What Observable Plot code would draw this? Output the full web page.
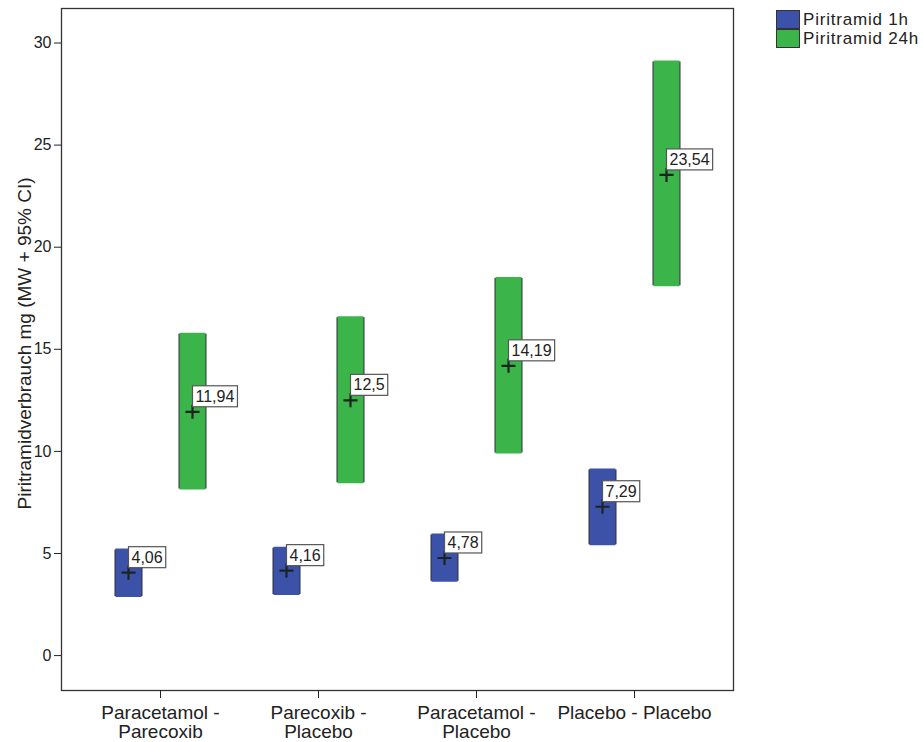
<!DOCTYPE html>
<html>
<head>
<meta charset="utf-8">
<script src="https://cdn.jsdelivr.net/npm/d3@7"></script>
<script src="https://cdn.jsdelivr.net/npm/@observablehq/plot@0.6"></script>
<style>
  html, body { margin: 0; padding: 0; background: #fff; }
  #wrap { position: relative; width: 923px; height: 742px; font-family: "Liberation Sans", Arial, sans-serif; }
  #legend { position: absolute; left: 776px; top: 10px; color: #222; font-size: 17px; line-height: 19px; letter-spacing: 0.8px; white-space: nowrap; }
  #legend .row { display: flex; align-items: center; height: 19px; }
  #legend .sw { width: 22px; height: 17px; border: 1px solid #333; margin-right: 3px; box-sizing: content-box; flex: none; }
</style>
</head>
<body>
<div id="wrap"><div id="legend"></div></div>
<script>
// Piritramide consumption per treatment group: mean with 95% confidence interval
const groups = ["Paracetamol - Parecoxib", "Parecoxib - Placebo", "Paracetamol - Placebo", "Placebo - Placebo"];
const groupLabels = ["Paracetamol -\nParecoxib", "Parecoxib -\nPlacebo", "Paracetamol -\nPlacebo", "Placebo - Placebo"];
const series = ["Piritramid 1h", "Piritramid 24h"];

const mean1h = [4.06, 4.16, 4.78, 7.29];
const lower1h = [2.85, 2.94, 3.59, 5.38];
const upper1h = [5.22, 5.30, 5.96, 9.14];

const mean24h = [11.94, 12.5, 14.19, 23.54];
const lower24h = [8.11, 8.42, 9.87, 18.06];
const upper24h = [15.78, 16.59, 18.52, 29.12];

const yTicks = [0, 5, 10, 15, 20, 25, 30];
const yLabel = "Piritramidverbrauch mg (MW + 95% CI)";

const colors = ["#3c52a9", "#3bb54a"];
const offsets = [-32, 32];   // horizontal shift of each series within a group
const barWidth = 26;

const rows = [
  groups.map((g, i) => ({group: g, series: series[0], mean: mean1h[i], lo: lower1h[i], hi: upper1h[i]})),
  groups.map((g, i) => ({group: g, series: series[1], mean: mean24h[i], lo: lower24h[i], hi: upper24h[i]}))
];

const fmt = v => String(v).replace(".", ",");

const marks = [];
rows.forEach((data, s) => {
  // outline, then fill, of the CI bar
  marks.push(Plot.ruleX(data, {x: "group", y1: "lo", y2: "hi", dx: offsets[s], stroke: "#2e2e3a",
    strokeWidth: barWidth + 2, insetTop: -1, insetBottom: -1}));
  marks.push(Plot.ruleX(data, {x: "group", y1: "lo", y2: "hi", dx: offsets[s], stroke: colors[s],
    strokeWidth: barWidth}));
});
rows.forEach((data, s) => {
  marks.push(Plot.dot(data, {x: "group", y: "mean", dx: offsets[s], symbol: "plus", r: 4.6,
    stroke: "#1d2320", strokeWidth: 2.2}));
});
rows.forEach((data, s) => {
  marks.push(Plot.text(data, {x: "group", y: "mean", text: d => fmt(d.mean), dx: offsets[s] + 3, dy: -10,
    textAnchor: "start", lineAnchor: "bottom", fontSize: 16, fill: "#222", ariaDescription: "value labels"}));
});

const chart = Plot.plot({
  width: 923,
  height: 742,
  marginLeft: 61,
  marginRight: 190,
  marginTop: 8,
  marginBottom: 52,
  style: {fontFamily: "'Liberation Sans', Arial, sans-serif", background: "transparent", color: "#222"},
  x: {type: "point", domain: groups, padding: 0.62},
  y: {domain: [-1.71, 31.69]},
  marks: [
    Plot.frame({stroke: "#333", strokeWidth: 1.3}),
    Plot.axisY(yTicks, {tickSize: 7, tickPadding: 3, fontSize: 16, label: null, stroke: "#222"}),
    Plot.axisX({tickSize: 8, tickPadding: 7, fontSize: 19, label: null, stroke: "#222",
      tickFormat: g => groupLabels[groups.indexOf(g)]}),
    Plot.text([yLabel], {frameAnchor: "left", textAnchor: "middle", lineAnchor: "middle", rotate: -90,
      dx: -37, dy: -6, fontSize: 19, fill: "#222"}),
    ...marks
  ]
});

document.getElementById("wrap").prepend(chart);

// white boxes behind the value labels
chart.querySelectorAll('g[aria-description="value labels"] text').forEach(t => {
  const b = t.getBBox();
  const r = document.createElementNS("http://www.w3.org/2000/svg", "rect");
  r.setAttribute("x", b.x - 3);
  r.setAttribute("y", b.y - 2);
  r.setAttribute("width", b.width + 6);
  r.setAttribute("height", b.height + 4);
  r.setAttribute("fill", "#fff");
  r.setAttribute("stroke", "#555");
  r.setAttribute("stroke-width", 1.2);
  const tr = t.getAttribute("transform");
  if (tr) r.setAttribute("transform", tr);
  t.parentNode.insertBefore(r, t);
});

// legend
const legend = document.getElementById("legend");
series.forEach((name, i) => {
  const row = document.createElement("div");
  row.className = "row";
  const sw = document.createElement("div");
  sw.className = "sw";
  sw.style.background = colors[i];
  const label = document.createElement("span");
  label.textContent = name;
  row.append(sw, label);
  legend.append(row);
});
</script>
</body>
</html>
